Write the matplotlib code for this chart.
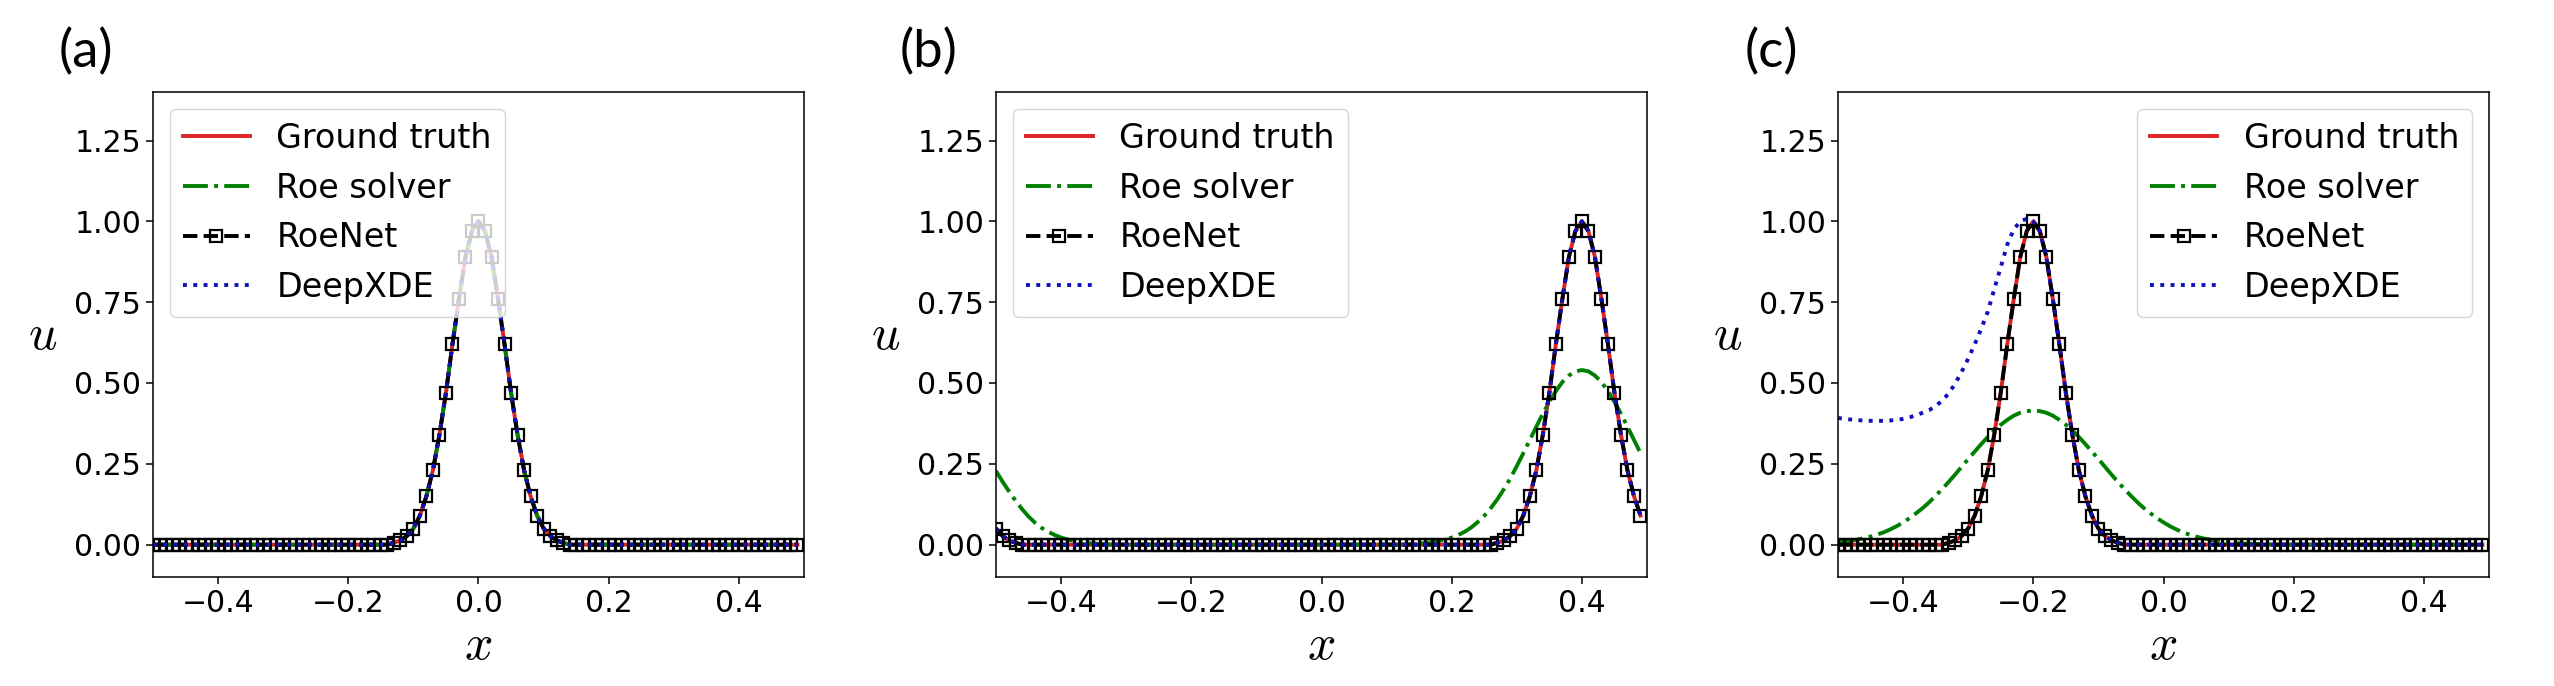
import numpy as np
import matplotlib
matplotlib.use('Agg')
import matplotlib.pyplot as plt

plt.rcParams['mathtext.fontset'] = 'cm'
plt.rcParams['font.family'] = ['DejaVu Sans']

# sampling grid of the markers, x = -0.5 ... 0.49
X = np.arange(100) * 0.01 - 0.5

# pulse shape (offsets -13..+13 around the peak)
PEAK = [0.006, 0.013, 0.027, 0.05, 0.09, 0.15, 0.23, 0.34, 0.47, 0.62, 0.76, 0.89, 0.97,
        1.0,
        0.97, 0.89, 0.76, 0.62, 0.47, 0.34, 0.23, 0.15, 0.09, 0.05, 0.027, 0.013, 0.006]

# (a) t = 0, every method on top of the exact pulse at x = 0
gt_a = [0.0] * 37 + PEAK + [0.0] * 36
roe_a = gt_a
net_a = gt_a
dxde_a = gt_a

# (b) pulse moved to x = 0.4, wraps round the periodic edge
gt_b = [0.05, 0.027, 0.013, 0.006] + [0.0] * 73 + PEAK[:23]
roe_b = [0.228, 0.195, 0.165, 0.136, 0.110, 0.087, 0.068, 0.052, 0.040, 0.030,
         0.022, 0.016, 0.011, 0.008, 0.005, 0.004, 0.002, 0.001] + [0.0] * 45 + \
        [0.001, 0.002, 0.004, 0.005, 0.008, 0.011, 0.016, 0.022, 0.030, 0.040,
         0.053, 0.070, 0.089, 0.113, 0.140, 0.171, 0.205, 0.243, 0.283, 0.324,
         0.365, 0.405, 0.442, 0.475, 0.503, 0.523, 0.536, 0.540, 0.536, 0.523,
         0.503, 0.475, 0.442, 0.405, 0.365, 0.324, 0.283]
net_b = gt_b
dxde_b = gt_b

# (c) pulse at x = -0.2
gt_c = [0.0] * 17 + PEAK + [0.0] * 56
roe_c = [0.007, 0.009, 0.012, 0.016, 0.020, 0.025, 0.031, 0.038, 0.047, 0.057,
         0.069, 0.082, 0.097, 0.113, 0.131, 0.151, 0.172, 0.194, 0.217, 0.241,
         0.265, 0.288, 0.311, 0.333, 0.353, 0.371, 0.386, 0.399, 0.408, 0.413,
         0.415,
         0.413, 0.408, 0.399, 0.386, 0.371, 0.353, 0.333, 0.311, 0.288, 0.265,
         0.241, 0.217, 0.194, 0.172, 0.151, 0.131, 0.113, 0.097, 0.082, 0.069,
         0.057, 0.047, 0.038, 0.031, 0.025, 0.020, 0.016, 0.012, 0.009, 0.007,
         0.005, 0.004, 0.003, 0.002, 0.002, 0.001, 0.001] + [0.0] * 32
net_c = gt_c
dxde_c = [0.392, 0.389, 0.387, 0.385, 0.384, 0.383, 0.383, 0.383, 0.384, 0.386,
          0.389, 0.394, 0.400, 0.408, 0.416, 0.429, 0.445, 0.468, 0.498, 0.535,
          0.575, 0.620, 0.668, 0.720, 0.790, 0.858, 0.928, 0.975, 1.000, 1.008,
          1.0, 0.97, 0.89, 0.76, 0.62, 0.47, 0.34, 0.23, 0.15, 0.09, 0.05, 0.027,
          0.013, 0.006] + [0.0] * 56

PANELS = ['(a)', '(b)', '(c)']
LEGEND_LOC = ['upper left', 'upper left', 'upper right']
XTICKS = [-0.4, -0.2, 0.0, 0.2, 0.4]
YTICKS = [0.0, 0.25, 0.5, 0.75, 1.0, 1.25]

TICK_FS = 21.5
LEG_FS = 24
W, H = 2554.0, 686.0
LEFTS = [153, 996, 1838]


def draw_panel(ax, gt, roe, net, dxde, tag, loc):
  ax.plot(X, gt, '-', color='#dd2222', lw=2.8, label='Ground truth')
  ax.plot(X, roe, '-.', color='g', lw=2.8, label='Roe solver')
  ax.plot(X, net, '--', color='k', lw=2.8, marker='s', ms=8.5, mfc='none',
          mec='k', mew=1.6, label='RoeNet')
  ax.plot(X, dxde, ':', color='#1010b8', lw=2.8, label='DeepXDE')

  ax.set_xlim(-0.5, 0.5)
  ax.set_ylim(-0.1, 1.4)
  ax.set_xticks(XTICKS)
  ax.set_yticks(YTICKS)
  ax.tick_params(labelsize=TICK_FS, length=5, width=1.1)
  for s in ax.spines.values():
    s.set_linewidth(1.1)

  ax.set_xlabel('$x$', fontsize=36)
  ax.xaxis.set_label_coords(0.5, -0.14)
  ax.xaxis.label.set_va('center')
  ax.set_ylabel('$u$', fontsize=36, rotation=0)
  ax.yaxis.set_label_coords(-0.17, 0.5)
  ax.yaxis.label.set_va('center')
  ax.yaxis.label.set_ha('center')

  ax.legend(loc=loc, fontsize=LEG_FS)
  ax.text(-0.103, 1.082, tag, transform=ax.transAxes, fontsize=38,
          family=['Lato', 'DejaVu Sans'], ha='center', va='center')


def main():
  fig = plt.figure(figsize=(W / 100, H / 100), dpi=100)
  data = [(gt_a, roe_a, net_a, dxde_a),
          (gt_b, roe_b, net_b, dxde_b),
          (gt_c, roe_c, net_c, dxde_c)]
  for i in range(3):
    ax = fig.add_axes([LEFTS[i] / W, 1 - 577 / H, 651 / W, 485 / H])
    gt, roe, net, dxde = data[i]
    draw_panel(ax, gt, roe, net, dxde, PANELS[i], LEGEND_LOC[i])
  fig.savefig('out.png', dpi=100)


if __name__ == '__main__':
  main()
